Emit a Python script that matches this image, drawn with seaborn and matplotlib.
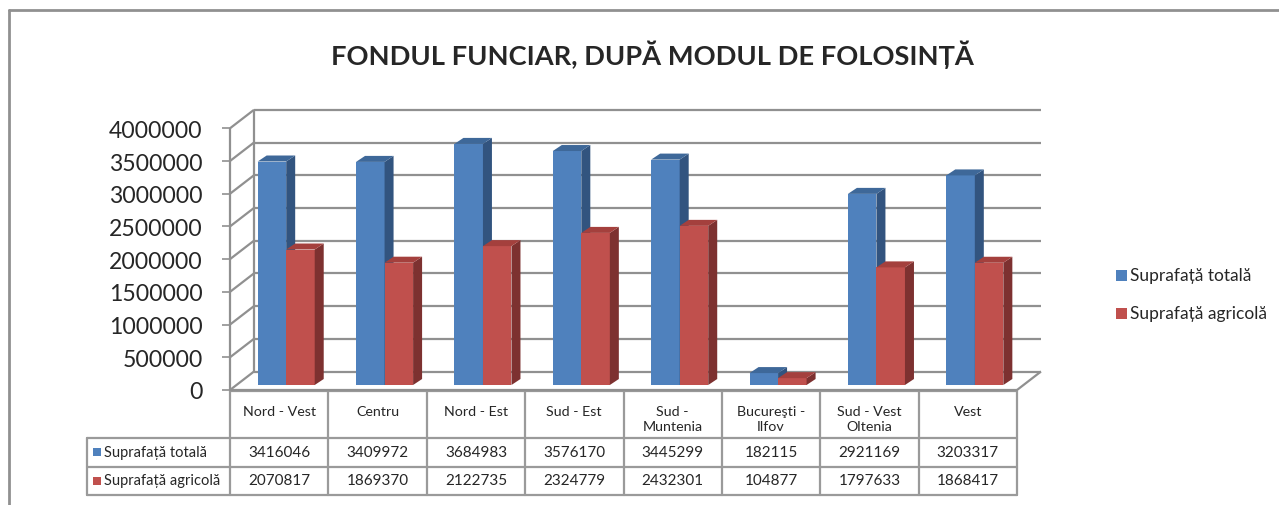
import matplotlib
matplotlib.use("Agg")
import matplotlib.pyplot as plt
import seaborn as sns
import pandas as pd
from matplotlib.patches import Polygon, Rectangle

# date
regiuni = ["Nord - Vest", "Centru", "Nord - Est", "Sud - Est", "Sud -\nMuntenia",
           "Bucureşti -\nIlfov", "Sud - Vest\nOltenia", "Vest"]
serii = ["Suprafață totală", "Suprafață agricolă"]
suprafata_totala = [3416046, 3409972, 3684983, 3576170, 3445299, 182115, 2921169, 3203317]
suprafata_agricola = [2070817, 1869370, 2122735, 2324779, 2432301, 104877, 1797633, 1868417]
y_ticks = list(range(0, 4000001, 500000))
titlu = "FONDUL FUNCIAR, DUPĂ MODUL DE FOLOSINȚĂ"

culori = ["#4F81BD", "#C0504D"]
culori_lateral = ["#32547F", "#7D3130"]
culori_sus = ["#3E6899", "#A4403D"]
gri = "#909090"

sns.set_style("white")
plt.rcParams['font.family'] = ['Lato', 'DejaVu Sans']

W, H = 1279, 506
fig = plt.figure(figsize=(W / 100, H / 100), dpi=100)

# overlay in pixeli pentru tabel, titlu, legenda
ov = fig.add_axes([0, 0, 1, 1], zorder=0)
ov.set_xlim(0, W)
ov.set_ylim(H, 0)
ov.axis('off')

# axa principala = planul frontal al graficului 3D
x_st, x_dr, y_sus, y_jos = 230, 1017, 129.3, 391
ax = fig.add_axes([x_st / W, (H - y_jos) / H, (x_dr - x_st) / W, (y_jos - y_sus) / H], zorder=1)
ax.set_facecolor('none')

df = pd.DataFrame({
    "regiune": regiuni * 2,
    "serie": [serii[0]] * len(regiuni) + [serii[1]] * len(regiuni),
    "valoare": suprafata_totala + suprafata_agricola,
})
sns.barplot(data=df, x="regiune", y="valoare", hue="serie", order=regiuni, hue_order=serii,
            palette=culori, width=0.58, saturation=1, ax=ax, legend=False)
n = len(regiuni)
ax.set_xlim(-0.5, n - 0.5)
ax.set_ylim(0, 4000000)

# conversii pixeli -> unitati de date
ux = (x_dr - x_st) / n
uy = (y_jos - y_sus) / 4000000
DX, DY = 24 / ux, 18.5 / uy      # adancimea peretilor
BX, BY = 7 / ux, 5 / uy          # pozitia barelor in adancime
bx, by = 9 / ux, 6 / uy          # adancimea barelor

bars = list(ax.patches)
for k, p in enumerate(bars):
    s = k // n
    x0 = p.get_x() + BX
    w, h = p.get_width(), p.get_height()
    p.set_x(x0)
    p.set_y(BY)
    p.set_zorder(3 + s)
    p.set_clip_on(False)
    p.set_edgecolor('none')
    x1, y0, y1 = x0 + w, BY, BY + h
    ax.add_patch(Polygon([(x1, y0), (x1, y1), (x1 + bx, y1 + by), (x1 + bx, y0 + by)],
                         closed=True, fc=culori_lateral[s], ec='none', zorder=3 + s, clip_on=False))
    ax.add_patch(Polygon([(x0, y1), (x1, y1), (x1 + bx, y1 + by), (x0 + bx, y1 + by)],
                         closed=True, fc=culori_sus[s], ec='none', zorder=3 + s, clip_on=False))

# peretii si grila
lk = dict(color=gri, lw=1.6, zorder=1, clip_on=False, solid_capstyle='butt')
xa, xb = -0.5, n - 0.5
for v in y_ticks:
    ax.plot([xa + DX, xb + DX], [v + DY, v + DY], **lk)
    ax.plot([xa, xa + DX], [v, v + DY], **lk)
ax.plot([xa + DX, xa + DX], [DY, 4000000 + DY], **lk)
ax.plot([xa, xa], [0, 4000000], **lk)
ax.plot([xa, xb], [0, 0], **lk)
ax.plot([xb, xb + DX], [0, DY], **lk)

ax.set_xticks([])
ax.set_yticks(y_ticks)
ax.set_yticklabels([str(v) for v in y_ticks])
ax.tick_params(axis='y', length=5.8, width=1.2, color=gri, labelsize=16.6, pad=14, left=True)
ax.set_xlabel('')
ax.set_ylabel('')
sns.despine(ax=ax, left=True, bottom=True)

# tabelul de date
xs = [x_st + i * ux for i in range(n + 1)]
tk = dict(color="#9A9A9A", lw=1.6)
ov.plot([x_st, x_dr], [391.5, 391.5], **tk)
for yy in (439, 467.5, 496):
    ov.plot([87, x_dr], [yy, yy], **tk)
ov.plot([87, 87], [439, 496], **tk)
for xx in xs:
    ov.plot([xx, xx], [391.5, 496], **tk)
for i, nume in enumerate(regiuni):
    cx = (xs[i] + xs[i + 1]) / 2
    ov.text(cx, 406, nume, ha='center', va='top', fontsize=10.3, linespacing=1.3)
    ov.text(cx, 453, str(suprafata_totala[i]), ha='center', va='center', fontsize=11)
    ov.text(cx, 481.5, str(suprafata_agricola[i]), ha='center', va='center', fontsize=11)
for s, yy in enumerate((453, 481.5)):
    ov.add_patch(Rectangle((93, yy - 4), 8, 8, fc=culori[s], ec='none'))
    ov.text(104, yy, serii[s], ha='left', va='center', fontsize=10.5)

# legenda
for s, yy in enumerate((276, 314)):
    ov.add_patch(Rectangle((1116, yy - 5.5), 11, 11, fc=culori[s], ec='none'))
    ov.text(1130, yy, serii[s], ha='left', va='center', fontsize=12.5)

# titlu si chenar
ov.text(652, 55, titlu, ha='center', va='center', fontsize=19.6, fontweight='bold')
ov.plot([9, W], [11, 11], color=gri, lw=2)
ov.plot([9, 9], [11, H], color=gri, lw=2)

fig.savefig("out.png", dpi=100)
